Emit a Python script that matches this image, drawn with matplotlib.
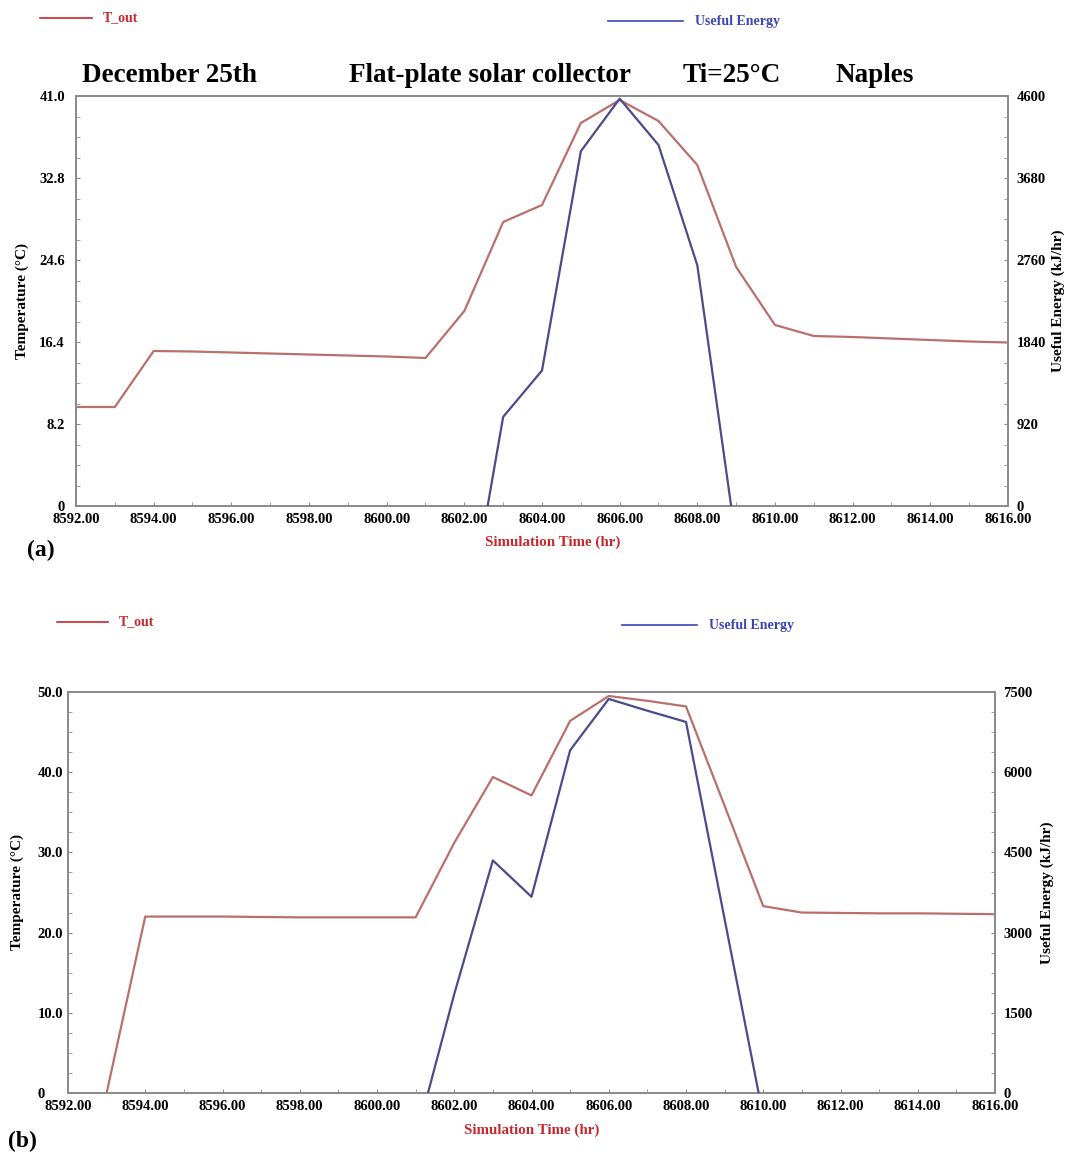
import numpy as np
import matplotlib
matplotlib.use("Agg")
import matplotlib.pyplot as plt
from matplotlib.ticker import MultipleLocator

plt.rcParams['font.family'] = ['Liberation Serif', 'DejaVu Serif']
plt.rcParams['font.weight'] = 'bold'

# ---- panel (a): December 25th, Naples, Ti=25 C ----
hours_a = [8592, 8593, 8594, 8595, 8596, 8597, 8598, 8599, 8600, 8601, 8602, 8603,
           8604, 8605, 8606, 8607, 8608, 8609, 8610, 8611, 8612, 8613, 8614, 8615, 8616]
tout_a = [9.9, 9.9, 15.5, 15.45, 15.35, 15.25, 15.15, 15.05, 14.95, 14.8, 19.5, 28.4,
          30.1, 38.3, 40.6, 38.5, 34.1, 23.9, 18.1, 17.0, 16.9, 16.75, 16.6, 16.45, 16.35]
e_hours_a = [8602, 8603, 8604, 8605, 8606, 8607, 8608, 8609]
energy_a = [-1500, 1000, 1520, 3980, 4570, 4050, 2700, -400]
tticks_a = [0, 8.2, 16.4, 24.6, 32.8, 41.0]
tticklabels_a = ['0', '8.2', '16.4', '24.6', '32.8', '41.0']
eticks_a = [0, 920, 1840, 2760, 3680, 4600]

# ---- panel (b) ----
hours_b = [8593, 8594, 8595, 8596, 8597, 8598, 8599, 8600, 8601, 8602, 8603, 8604,
           8605, 8606, 8607, 8608, 8609, 8610, 8611, 8612, 8613, 8614, 8615, 8616]
tout_b = [0.0, 22.0, 22.0, 22.0, 21.95, 21.9, 21.9, 21.9, 21.9, 31.2, 39.4, 37.1,
          46.4, 49.5, 48.9, 48.2, 35.8, 23.3, 22.5, 22.45, 22.4, 22.4, 22.35, 22.3]
e_hours_b = [8601, 8602, 8603, 8604, 8605, 8606, 8607, 8608, 8609, 8610]
energy_b = [-870, 1850, 4350, 3670, 6410, 7370, 7150, 6940, 3250, -440]
tticks_b = [0, 10, 20, 30, 40, 50]
tticklabels_b = ['0', '10.0', '20.0', '30.0', '40.0', '50.0']
eticks_b = [0, 1500, 3000, 4500, 6000, 7500]

xticks = list(range(8592, 8617, 2))
xticklabels = ['%.2f' % v for v in xticks]

RED = '#b9706c'
BLUE = '#4b4b8c'
RED_TXT = '#c8282d'
BLUE_TXT = '#3b44b8'
SPINE = '#8c8c8c'
TICK_FS = 10.5

W, H = 1067, 1155
fig = plt.figure(figsize=(W / 100, H / 100), dpi=100)

def panel(l, r, t, b, hrs, tout, ehrs, energy, tt, ttl, et, lab_ha, ylab_x, y2lab_x, xlab):
    ax = fig.add_axes([l / W, 1 - b / H, (r - l) / W, (b - t) / H])
    ax.plot(hrs, tout, color=RED, lw=1.6, zorder=3)
    ax.set_xlim(8592, 8616)
    ax.set_ylim(0, tt[-1])
    ax.set_xticks(xticks)
    ax.set_xticklabels(xticklabels, fontsize=TICK_FS, fontweight='bold')
    ax.set_yticks(tt)
    ax.set_yticklabels(ttl, fontsize=TICK_FS, fontweight='bold')
    ax.xaxis.set_minor_locator(MultipleLocator(1))
    ax.yaxis.set_minor_locator(MultipleLocator(tt[1] / 4))
    ax.tick_params(which='both', direction='in', color=SPINE, length=3)
    ax.tick_params(axis='x', pad=5)
    for lbl in ax.get_yticklabels():
        lbl.set_ha(lab_ha)
    ax.tick_params(axis='y', pad=8 if lab_ha == 'right' else 22)
    ax.set_ylabel('Temperature (°C)', fontsize=11, fontweight='bold', va='center')
    ax.yaxis.set_label_coords((ylab_x - l) / (r - l), 0.5)
    ax.set_xlabel('Simulation Time (hr)', fontsize=10.8, fontweight='bold', color=RED_TXT)
    ax.xaxis.set_label_coords((xlab[0] - l) / (r - l), (b - xlab[1]) / (b - t))
    ax.xaxis.label.set_va('center')
    for s in ax.spines.values():
        s.set_color(SPINE)
        s.set_linewidth(1.4)
    ax2 = ax.twinx()
    ax2.plot(ehrs, energy, color=BLUE, lw=1.6, zorder=4)
    ax2.set_ylim(0, et[-1])
    ax2.set_yticks(et)
    ax2.set_yticklabels([str(v) for v in et], fontsize=TICK_FS, fontweight='bold')
    ax2.yaxis.set_minor_locator(MultipleLocator(et[1] / 4))
    ax2.tick_params(which='both', direction='in', color=SPINE, length=3, pad=6)
    ax2.set_ylabel('Useful Energy (kJ/hr)', fontsize=11, fontweight='bold', va='center')
    ax2.yaxis.set_label_coords((y2lab_x - l) / (r - l), 0.5)
    for s in ax2.spines.values():
        s.set_color(SPINE)
        s.set_linewidth(1.4)
    return ax

def legend(y_red, y_blue, xr, xb):
    fig.add_artist(plt.Line2D([xr[0] / W, xr[1] / W], [1 - y_red / H] * 2, color=RED_TXT, lw=1.2))
    fig.text((xr[1] + 11) / W, 1 - y_red / H, 'T_out', color=RED_TXT, fontsize=10,
             fontweight='bold', va='center')
    fig.add_artist(plt.Line2D([xb[0] / W, xb[1] / W], [1 - y_blue / H] * 2, color=BLUE_TXT, lw=1.2))
    fig.text((xb[1] + 12) / W, 1 - y_blue / H, 'Useful Energy', color=BLUE_TXT, fontsize=10,
             fontweight='bold', va='center')

panel(76, 1008, 96, 506, hours_a, tout_a, e_hours_a, energy_a,
      tticks_a, tticklabels_a, eticks_a, 'right', 22, 1058, (553, 542))
panel(68, 995, 692, 1093, hours_b, tout_b, e_hours_b, energy_b,
      tticks_b, tticklabels_b, eticks_b, 'left', 17, 1047, (532, 1130))

legend(18, 21, (40, 92), (608, 683))
legend(622, 625, (57, 108), (622, 697))

# header of panel (a)
for x, s in [(82, 'December 25th'), (349, 'Flat-plate solar collector'),
             (683, 'Ti=25°C'), (836, 'Naples')]:
    fig.text(x / W, 1 - 75 / H, s, fontsize=19.5, fontweight='bold', va='center', ha='left')

fig.text(27 / W, 1 - 550 / H, '(a)', fontsize=17, fontweight='bold', va='center')
fig.text(8 / W, 1 - 1141 / H, '(b)', fontsize=17, fontweight='bold', va='center')

fig.savefig('out.png', dpi=100)
